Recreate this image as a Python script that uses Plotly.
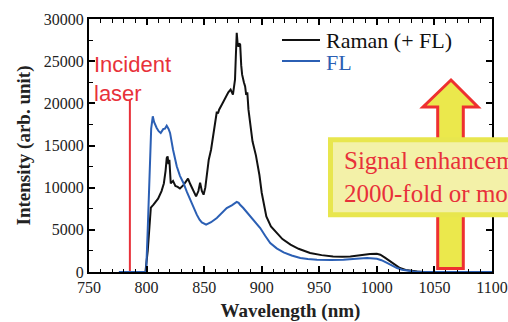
import plotly.graph_objects as go

# ---------------- data ----------------
raman_wl = [776, 790, 799, 801, 803.7, 806, 810, 813, 815, 816.5, 817.5, 818.3, 819, 819.8,
            821, 823, 825, 827, 829, 832, 834, 836, 838, 840, 843, 845, 846.5, 848, 849.5,
            851, 853, 854, 856, 858.5, 860, 861, 862, 863, 866, 869, 871, 873, 875, 876,
            876.8, 877.5, 878.3, 879, 879.8, 880.5, 881.3, 882.2, 883, 884.5, 885.6, 886.5,
            887.5, 888.5, 890, 892, 895, 898, 900, 904, 908, 913, 918, 925, 932, 942, 952,
            962, 970, 977, 986, 994, 1000, 1003, 1007, 1011.7, 1016, 1020, 1025, 1029, 1035,
            1040, 1070, 1100]
raman_int = [0, 0, 0, 2500, 7630, 8000, 8700, 9600, 10500, 12000, 13500, 13700, 12800, 13300,
             10500, 10800, 10200, 10100, 9900, 10300, 10700, 11070, 10400, 9900, 8970, 9600,
             10600, 9600, 9170, 10000, 12000, 13320, 14500, 16490, 17800, 19000, 18800, 19250,
             20000, 20830, 21300, 21630, 21030, 22000, 22800, 25500, 28350, 27200, 26700, 27100,
             26960, 24500, 23400, 22500, 22000, 21000, 21300, 19250, 17500, 15500, 13800, 11500,
             9400, 6600, 5400, 4630, 3900, 3240, 2750, 2250, 2000, 1850, 1800, 1850, 2000, 2140,
             2150, 2050, 1700, 1260, 800, 470, 250, 150, 50, 0, 0, 0]

fl_wl = [776, 790, 799.6, 801, 802.5, 804, 805.4, 806.5, 808.8, 810.5, 812.3, 814.6, 816, 817.5,
         819, 820.4, 823, 826.2, 829, 832, 835, 837.8, 841, 843.6, 846, 848, 851.7, 856, 861,
         865, 869.6, 874, 876, 878.3, 880, 881, 884, 887.5, 891.3, 895, 898.7, 903, 907.4, 913,
         919, 926, 933.5, 940, 948, 960, 971, 982, 991.5, 1000, 1004, 1008.8, 1013, 1017.5,
         1022, 1026, 1032, 1040, 1070, 1100]
fl_int = [0, 0, 0, 5000, 12000, 17000, 18460, 17800, 17080, 16700, 16490, 16960, 17000, 17350,
          17000, 16490, 14500, 12530, 11400, 10560, 9500, 8580, 7600, 6800, 6200, 5880, 5610,
          5900, 6410, 7000, 7590, 7900, 8100, 8300, 8200, 8000, 7590, 7000, 6410, 5800, 5220,
          4300, 3440, 2800, 2330, 1950, 1660, 1550, 1460, 1430, 1460, 1580, 1660, 1580, 1400,
          1070, 750, 470, 270, 150, 50, 0, 0, 0]

laser_wl = [785.5, 785.5]
laser_int = [0, 20400]

x_ticks = [750, 800, 850, 900, 950, 1000, 1050, 1100]
y_ticks = [0, 5000, 10000, 15000, 20000, 25000, 30000]
x_tick_labels = [str(v) for v in x_ticks]
y_tick_labels = [str(v) for v in y_ticks]

series_names = ["Raman (+ FL)", "FL"]
BLACK = "#111111"
BLUE = "#2b5fb4"
RED = "#e8313a"

# ---------------- figure ----------------
fig = go.Figure()
fig.add_trace(go.Scatter(x=laser_wl, y=laser_int, mode="lines",
                         line=dict(color=RED, width=2), showlegend=False))
fig.add_trace(go.Scatter(x=raman_wl, y=raman_int, mode="lines", name=series_names[0],
                         line=dict(color=BLACK, width=2), showlegend=False))
fig.add_trace(go.Scatter(x=fl_wl, y=fl_int, mode="lines", name=series_names[1],
                         line=dict(color=BLUE, width=2), showlegend=False))

# plot area: x 89..492 px, y 19..272 px
L, R, T, B = 89, 16, 19, 50
W, H = 508, 322
pw, ph = W - L - R, H - T - B

def px(x):
    return (x - L) / pw

def py(y):
    return 1 - (y - T) / ph

serif = "Liberation Serif, Times New Roman, serif"

# manual legend
legend_rows = [(series_names[0], BLACK, 40), (series_names[1], BLUE, 61)]
shapes = []
annotations = []
for name, col, ypix in legend_rows:
    shapes.append(dict(type="line", xref="paper", yref="paper", x0=px(282), x1=px(320),
                       y0=py(ypix), y1=py(ypix), line=dict(color=col, width=2)))
    annotations.append(dict(text=name, xref="paper", yref="paper", x=px(324), y=py(ypix + 1),
                            xanchor="left", yanchor="middle", showarrow=False,
                            font=dict(family=serif, size=22, color=col)))

# incident laser label
annotations.append(dict(text="Incident<br>laser", xref="paper", yref="paper", x=px(92), y=py(50),
                        xanchor="left", yanchor="top", showarrow=False, align="left",
                        font=dict(family="Liberation Sans, Arial, sans-serif", size=22, color=RED)))

# arrow (up) yellow with red outline
ax = [451, 478, 463.3, 463.3, 437.7, 437.7, 423]
ay = [80, 107, 107, 268.5, 268.5, 107, 107]
path = "M " + " L ".join(f"{px(a)},{py(b)}" for a, b in zip(ax, ay)) + " Z"
shapes.append(dict(type="path", xref="paper", yref="paper", path=path,
                   fillcolor="#ebe84c", line=dict(color="#ee3030", width=3), layer="above"))

# text box
shapes.append(dict(type="rect", xref="paper", yref="paper", x0=px(330.5), x1=px(540),
                   y0=py(214.8), y1=py(139.8), fillcolor="#f3f1a8",
                   line=dict(color="#e8e64e", width=5), layer="above"))
annotations.append(dict(text="Signal enhancement<br>2000-fold or more", xref="paper", yref="paper",
                        x=px(342), y=py(145), xanchor="left", yanchor="top", showarrow=False,
                        align="left", font=dict(family=serif, size=25, color="#e8313a")))

axis_common = dict(showline=True, linecolor="black", linewidth=2, mirror="ticks",
                   ticks="inside", ticklen=6, tickwidth=1.5, tickcolor="black",
                   showgrid=False, zeroline=False, automargin=False,
                   tickfont=dict(family=serif, size=16, color="#222"))

fig.update_xaxes(range=[750, 1100], tickvals=x_ticks, ticktext=x_tick_labels,
                 minor=dict(dtick=10, ticks="inside", ticklen=3.5, tickwidth=1.2, tickcolor="black"),
                 title=dict(text="<b>Wavelength (nm)</b>", font=dict(family=serif, size=19, color="#222"),
                            standoff=8),
                 **axis_common)
fig.update_yaxes(range=[0, 30000], tickvals=y_ticks, ticktext=y_tick_labels,
                 minor=dict(dtick=2500, ticks="inside", ticklen=3.5, tickwidth=1.2, tickcolor="black"),
                 title=dict(text="<b>Intensity (arb. unit)</b>", font=dict(family=serif, size=19, color="#222"),
                            standoff=8),
                 **axis_common)

fig.update_layout(width=W, height=H, margin=dict(l=L, r=R, t=T, b=B),
                  plot_bgcolor="white", paper_bgcolor="white",
                  shapes=shapes, annotations=annotations, showlegend=False)

fig.write_html("out.html", config={"displayModeBar": False},
               post_script="document.body.style.margin='0px';document.body.style.overflow='hidden';")
